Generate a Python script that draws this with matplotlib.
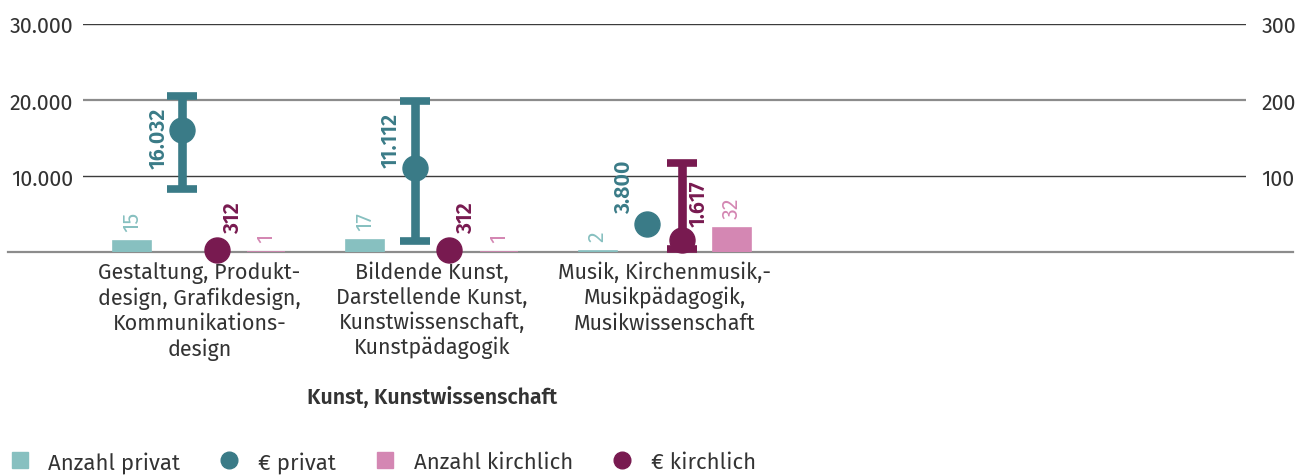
import matplotlib
matplotlib.use("Agg")
import matplotlib.pyplot as plt
from matplotlib.lines import Line2D
import numpy as np

# Anzahl der Stipendien (rechte Achse) und Beträge in € (linke Achse)
categories = ["Gestaltung, Produkt-\ndesign, Grafikdesign,\nKommunikations-\ndesign",
              "Bildende Kunst,\nDarstellende Kunst,\nKunstwissenschaft,\nKunstpädagogik",
              "Musik, Kirchenmusik,-\nMusikpädagogik,\nMusikwissenschaft",
              "", ""]
anzahl_privat = [15, 17, 2]
anzahl_kirchlich = [1, 1, 32]
euro_privat = [16032, 11112, 3800]
euro_kirchlich = [312, 312, 1617]
# Spannweite (min, max) der Beträge, None = keine Angabe
range_privat = [(8350, 20600), (1500, 19900), None]
range_kirchlich = [None, None, (500, 11800)]
group_title = "Kunst, Kunstwissenschaft"

left_ticks = [10000, 20000, 30000]
right_ticks = [100, 200, 300]

C_ANZ_PRIV = "#87c0c0"
C_EUR_PRIV = "#3a7b87"
C_ANZ_KIRCH = "#d487b3"
C_EUR_KIRCH = "#781a50"
C_TEXT = "#333333"
FS = 15.5

plt.rcParams["font.family"] = ["Fira Sans", "DejaVu Sans"]
plt.rcParams["font.size"] = FS
plt.rcParams["text.color"] = C_TEXT


def de_format(v):
    return f"{v:,}".replace(",", ".")


fig = plt.figure(figsize=(13.06, 4.77), dpi=100)
ax = fig.add_axes([0.0636, 0.4686, 0.8905, 0.479])
ax2 = ax.twinx()
ax.set_zorder(ax2.get_zorder() + 1)
ax.patch.set_visible(False)

n = len(categories)
x = np.arange(n)
ax.set_xlim(-0.5, n - 0.5)
ax.set_ylim(0, 30000)
ax2.set_ylim(0, 300)

bar_off, bar_w, pt_off = 0.288, 0.163, 0.075

# Gitterlinien
grid_styles = {10000: ("#3c3c3c", 1.0), 20000: ("#8c8c8c", 1.6), 30000: ("#3c3c3c", 1.0)}
for t in left_ticks:
    col, lw = grid_styles[t]
    ax2.axhline(t / 100, color=col, lw=lw, zorder=1)
ax2.axhline(0, xmin=-0.0645, xmax=1.0404, color="#8c8c8c", lw=1.6, zorder=1, clip_on=False)

# Balken: Anzahl
idx = np.arange(len(anzahl_privat))
ax2.bar(idx - bar_off, anzahl_privat, width=bar_w, color=C_ANZ_PRIV,
        edgecolor=C_ANZ_PRIV, lw=1.2, zorder=2)
ax2.bar(idx + bar_off, anzahl_kirchlich, width=bar_w, color=C_ANZ_KIRCH,
        edgecolor=C_ANZ_KIRCH, lw=1.2, zorder=2)
for i in idx:
    ax2.annotate(str(anzahl_privat[i]), (i - bar_off, anzahl_privat[i]), xytext=(0, 7),
                 textcoords="offset points", rotation=90, ha="center", va="bottom",
                 color=C_ANZ_PRIV)
    ax2.annotate(str(anzahl_kirchlich[i]), (i + bar_off, anzahl_kirchlich[i]), xytext=(0, 7),
                 textcoords="offset points", rotation=90, ha="center", va="bottom",
                 color=C_ANZ_KIRCH)

# Punkte mit Spannweite: Beträge
def draw_points(xs, vals, ranges, color):
    for xi, v, r in zip(xs, vals, ranges):
        if r is not None:
            ax.errorbar(xi, v, yerr=[[v - r[0]], [r[1] - v]], fmt="none", ecolor=color,
                        elinewidth=6.2, capsize=11, capthick=5.5, zorder=4, clip_on=False)
        ax.plot(xi, v, "o", ms=18, color=color, zorder=5, clip_on=False)

draw_points(idx - pt_off, euro_privat, range_privat, C_EUR_PRIV)
draw_points(idx + pt_off, euro_kirchlich, range_kirchlich, C_EUR_KIRCH)

# Wertebeschriftungen der Beträge
label_y_privat = [15070, 14870, 8650]
label_y_kirch = [4700, 4700, 6550]
for i in idx:
    ax.annotate(de_format(euro_privat[i]), (i - pt_off, label_y_privat[i]), xytext=(-17, 0),
                textcoords="offset points", rotation=90, ha="center", va="center",
                color=C_EUR_PRIV, fontweight="semibold")
    ax.annotate(de_format(euro_kirchlich[i]), (i + pt_off, label_y_kirch[i]), xytext=(11.5, 0),
                textcoords="offset points", rotation=90, ha="center", va="center",
                color=C_EUR_KIRCH, fontweight="semibold")

for a in (ax, ax2):
    for s in a.spines.values():
        s.set_visible(False)
    a.tick_params(length=0, colors=C_TEXT, labelsize=FS)

ax.set_yticks(left_ticks)
ax.set_yticklabels([de_format(t) for t in left_ticks])
ax.tick_params(axis="y", pad=7)
ax2.set_yticks(right_ticks)
ax2.set_yticklabels([str(t) for t in right_ticks])
ax2.tick_params(axis="y", pad=11)

ax.set_xticks(x)
ax.set_xticklabels(categories, linespacing=1.2)
ax.tick_params(axis="x", pad=6)
ax.text(1, -0.63, group_title, transform=ax.get_xaxis_transform(), ha="center", va="center",
        fontweight="semibold")

handles = [
    Line2D([], [], ls="", marker="s", ms=12, color=C_ANZ_PRIV),
    Line2D([], [], ls="", marker="o", ms=12, color=C_EUR_PRIV),
    Line2D([], [], ls="", marker="s", ms=12, color=C_ANZ_KIRCH),
    Line2D([], [], ls="", marker="o", ms=12, color=C_EUR_KIRCH),
]
fig.legend(handles, ["Anzahl privat", "€ privat", "Anzahl kirchlich", "€ kirchlich"],
           loc="center left", bbox_to_anchor=(-0.002, 0.03), ncol=4, frameon=False,
           handlelength=1.0, handletextpad=0.8, columnspacing=1.7, borderpad=0,
           fontsize=16)

fig.savefig("out.png", dpi=100)
